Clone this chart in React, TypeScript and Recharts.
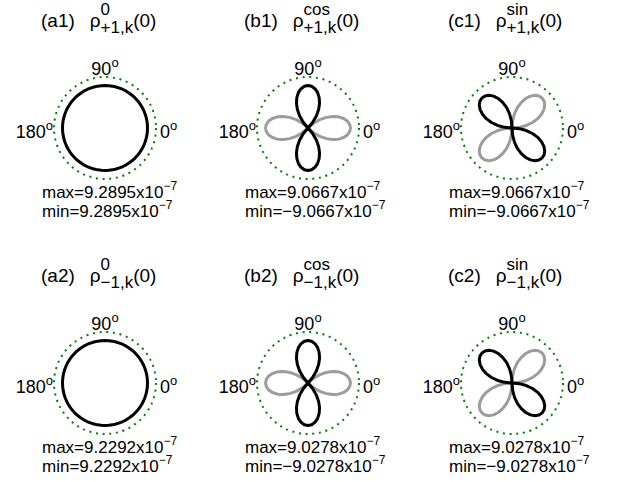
import React from 'react';
import { RadarChart, Radar, PolarGrid, PolarAngleAxis, PolarRadiusAxis } from 'recharts';

// polar sampling angles (degrees, counter-clockwise from 0°)
const ANGLES = [
  0, 5, 10, 15, 20, 25, 30, 35, 40, 45, 50, 55, 60, 65, 70, 75, 80, 85,
  90, 95, 100, 105, 110, 115, 120, 125, 130, 135, 140, 145, 150, 155, 160, 165, 170, 175,
  180, 185, 190, 195, 200, 205, 210, 215, 220, 225, 230, 235, 240, 245, 250, 255, 260, 265,
  270, 275, 280, 285, 290, 295, 300, 305, 310, 315, 320, 325, 330, 335, 340, 345, 350, 355,
];

// normalised rho / max
const SHAPE_ISO = [
  1, 1, 1, 1, 1, 1, 1, 1, 1, 1, 1, 1, 1, 1, 1, 1, 1, 1,
  1, 1, 1, 1, 1, 1, 1, 1, 1, 1, 1, 1, 1, 1, 1, 1, 1, 1,
  1, 1, 1, 1, 1, 1, 1, 1, 1, 1, 1, 1, 1, 1, 1, 1, 1, 1,
  1, 1, 1, 1, 1, 1, 1, 1, 1, 1, 1, 1, 1, 1, 1, 1, 1, 1,
];
const SHAPE_COS = [
  -1, -0.985, -0.94, -0.866, -0.766, -0.643, -0.5, -0.342, -0.174, 0, 0.174, 0.342, 0.5, 0.643, 0.766, 0.866, 0.94, 0.985,
  1, 0.985, 0.94, 0.866, 0.766, 0.643, 0.5, 0.342, 0.174, 0, -0.174, -0.342, -0.5, -0.643, -0.766, -0.866, -0.94, -0.985,
  -1, -0.985, -0.94, -0.866, -0.766, -0.643, -0.5, -0.342, -0.174, 0, 0.174, 0.342, 0.5, 0.643, 0.766, 0.866, 0.94, 0.985,
  1, 0.985, 0.94, 0.866, 0.766, 0.643, 0.5, 0.342, 0.174, 0, -0.174, -0.342, -0.5, -0.643, -0.766, -0.866, -0.94, -0.985,
];
const SHAPE_SIN = [
  0, -0.174, -0.342, -0.5, -0.643, -0.766, -0.866, -0.94, -0.985, -1, -0.985, -0.94, -0.866, -0.766, -0.643, -0.5, -0.342, -0.174,
  0, 0.174, 0.342, 0.5, 0.643, 0.766, 0.866, 0.94, 0.985, 1, 0.985, 0.94, 0.866, 0.766, 0.643, 0.5, 0.342, 0.174,
  0, -0.174, -0.342, -0.5, -0.643, -0.766, -0.866, -0.94, -0.985, -1, -0.985, -0.94, -0.866, -0.766, -0.643, -0.5, -0.342, -0.174,
  0, 0.174, 0.342, 0.5, 0.643, 0.766, 0.866, 0.94, 0.985, 1, 0.985, 0.94, 0.866, 0.766, 0.643, 0.5, 0.342, 0.174,
];

const ANGLE_TICKS = [0, 90, 180];
const PANEL_IDS = ['a1', 'b1', 'c1', 'a2', 'b2', 'c2'];
const PANEL_SUPS = ['0', 'cos', 'sin', '0', 'cos', 'sin'];
const PANEL_SUBS = ['+1,k', '+1,k', '+1,k', '\u22121,k', '\u22121,k', '\u22121,k'];
const MAX_VALUES = ['9.2895', '9.0667', '9.0667', '9.2292', '9.0278', '9.0278'];
const MIN_VALUES = ['9.2895', '\u22129.0667', '\u22129.0667', '9.2292', '\u22129.0278', '\u22129.0278'];
const EXPONENT = '\u22127';

const PANEL_SHAPES = [SHAPE_ISO, SHAPE_COS, SHAPE_SIN, SHAPE_ISO, SHAPE_COS, SHAPE_SIN];

const FONT = '"Liberation Sans", Arial, Helvetica, sans-serif';
const COL_X = [105, 308, 512];
const ROW_Y = [128, 383];
const BOX_W = 240;
const BOX_H = 170;
const R_OUT = 51;

// tick text sits at radius + 8 (default tick size)
const AngleTick = (props: any) => {
  const { x, y, payload } = props;
  const v = payload.value;
  let tx = x;
  let ty = y;
  let anchor = 'middle';
  if (v === 90) { ty = y + 6; }
  else if (v === 0) { tx = x - 4; ty = y + 10; anchor = 'start'; }
  else { tx = x + 7; ty = y + 10; anchor = 'end'; }
  return (
    <text x={tx} y={ty} textAnchor={anchor} fontSize={18} fontFamily={FONT} fill="#000">
      {v}
      <tspan dy={-8} fontSize={13}>o</tspan>
    </text>
  );
};

function Panel({ idx }: { idx: number }) {
  const shape = PANEL_SHAPES[idx];
  const data = ANGLES.map((a, i) => ({
    angle: a,
    pos: Math.max(shape[i], 0),
    neg: Math.max(-shape[i], 0),
  }));
  const cx = COL_X[idx % 3];
  const cy = ROW_Y[Math.floor(idx / 3)];
  const sup = { fontSize: 12, position: 'relative' as const, top: -8 };
  return (
    <>
      <div style={{ position: 'absolute', left: cx - BOX_W / 2, top: cy - BOX_H / 2 }}>
        <RadarChart width={BOX_W} height={BOX_H} cx={BOX_W / 2} cy={BOX_H / 2} outerRadius={R_OUT}
          startAngle={0} endAngle={360} data={data} margin={{ top: 0, right: 0, bottom: 0, left: 0 }}>
          <PolarGrid gridType="circle" radialLines={false} polarRadius={[R_OUT]}
            stroke="#008000" strokeWidth={2} strokeDasharray="2 4.7" />
          <PolarAngleAxis dataKey="angle" type="number" domain={[0, 360]} ticks={ANGLE_TICKS}
            axisLine={false} tickLine={false} tick={AngleTick} />
          <PolarRadiusAxis domain={[0, 1.2]} tick={false} axisLine={false} />
          <Radar dataKey="neg" stroke="#9c9c9c" strokeWidth={3} fill="none" strokeLinejoin="round"
            dot={false} isAnimationActive={false} />
          <Radar dataKey="pos" stroke="#000" strokeWidth={3} fill="none" strokeLinejoin="round"
            dot={false} isAnimationActive={false} />
        </RadarChart>
      </div>
      <div style={{ position: 'absolute', left: cx - 64, top: cy - 127, fontFamily: FONT, fontSize: 19, lineHeight: '19px', whiteSpace: 'nowrap' }}>
        <span>({PANEL_IDS[idx]})</span>
        <span style={{ marginLeft: 15 }}>{'\u03c1'}</span>
        <span style={{ display: 'inline-flex', flexDirection: 'column', fontSize: 17, lineHeight: '18px', verticalAlign: '12px' }}>
          <span>{PANEL_SUPS[idx]}</span>
          <span>{PANEL_SUBS[idx]}</span>
        </span>
        <span>(0)</span>
      </div>
      <div style={{ position: 'absolute', left: cx - 63, top: cy + 56, fontFamily: FONT, fontSize: 17, lineHeight: '17px', whiteSpace: 'nowrap' }}>
        <div>max={MAX_VALUES[idx]}x10<span style={sup}>{EXPONENT}</span></div>
        <div>min={MIN_VALUES[idx]}x10<span style={sup}>{EXPONENT}</span></div>
      </div>
    </>
  );
}

export default function App() {
  return (
    <div style={{ position: 'absolute', left: 0, top: 0, width: 629, height: 482, background: '#fff', overflow: 'hidden' }}>
      {PANEL_IDS.map((id, i) => <Panel key={id} idx={i} />)}
    </div>
  );
}
